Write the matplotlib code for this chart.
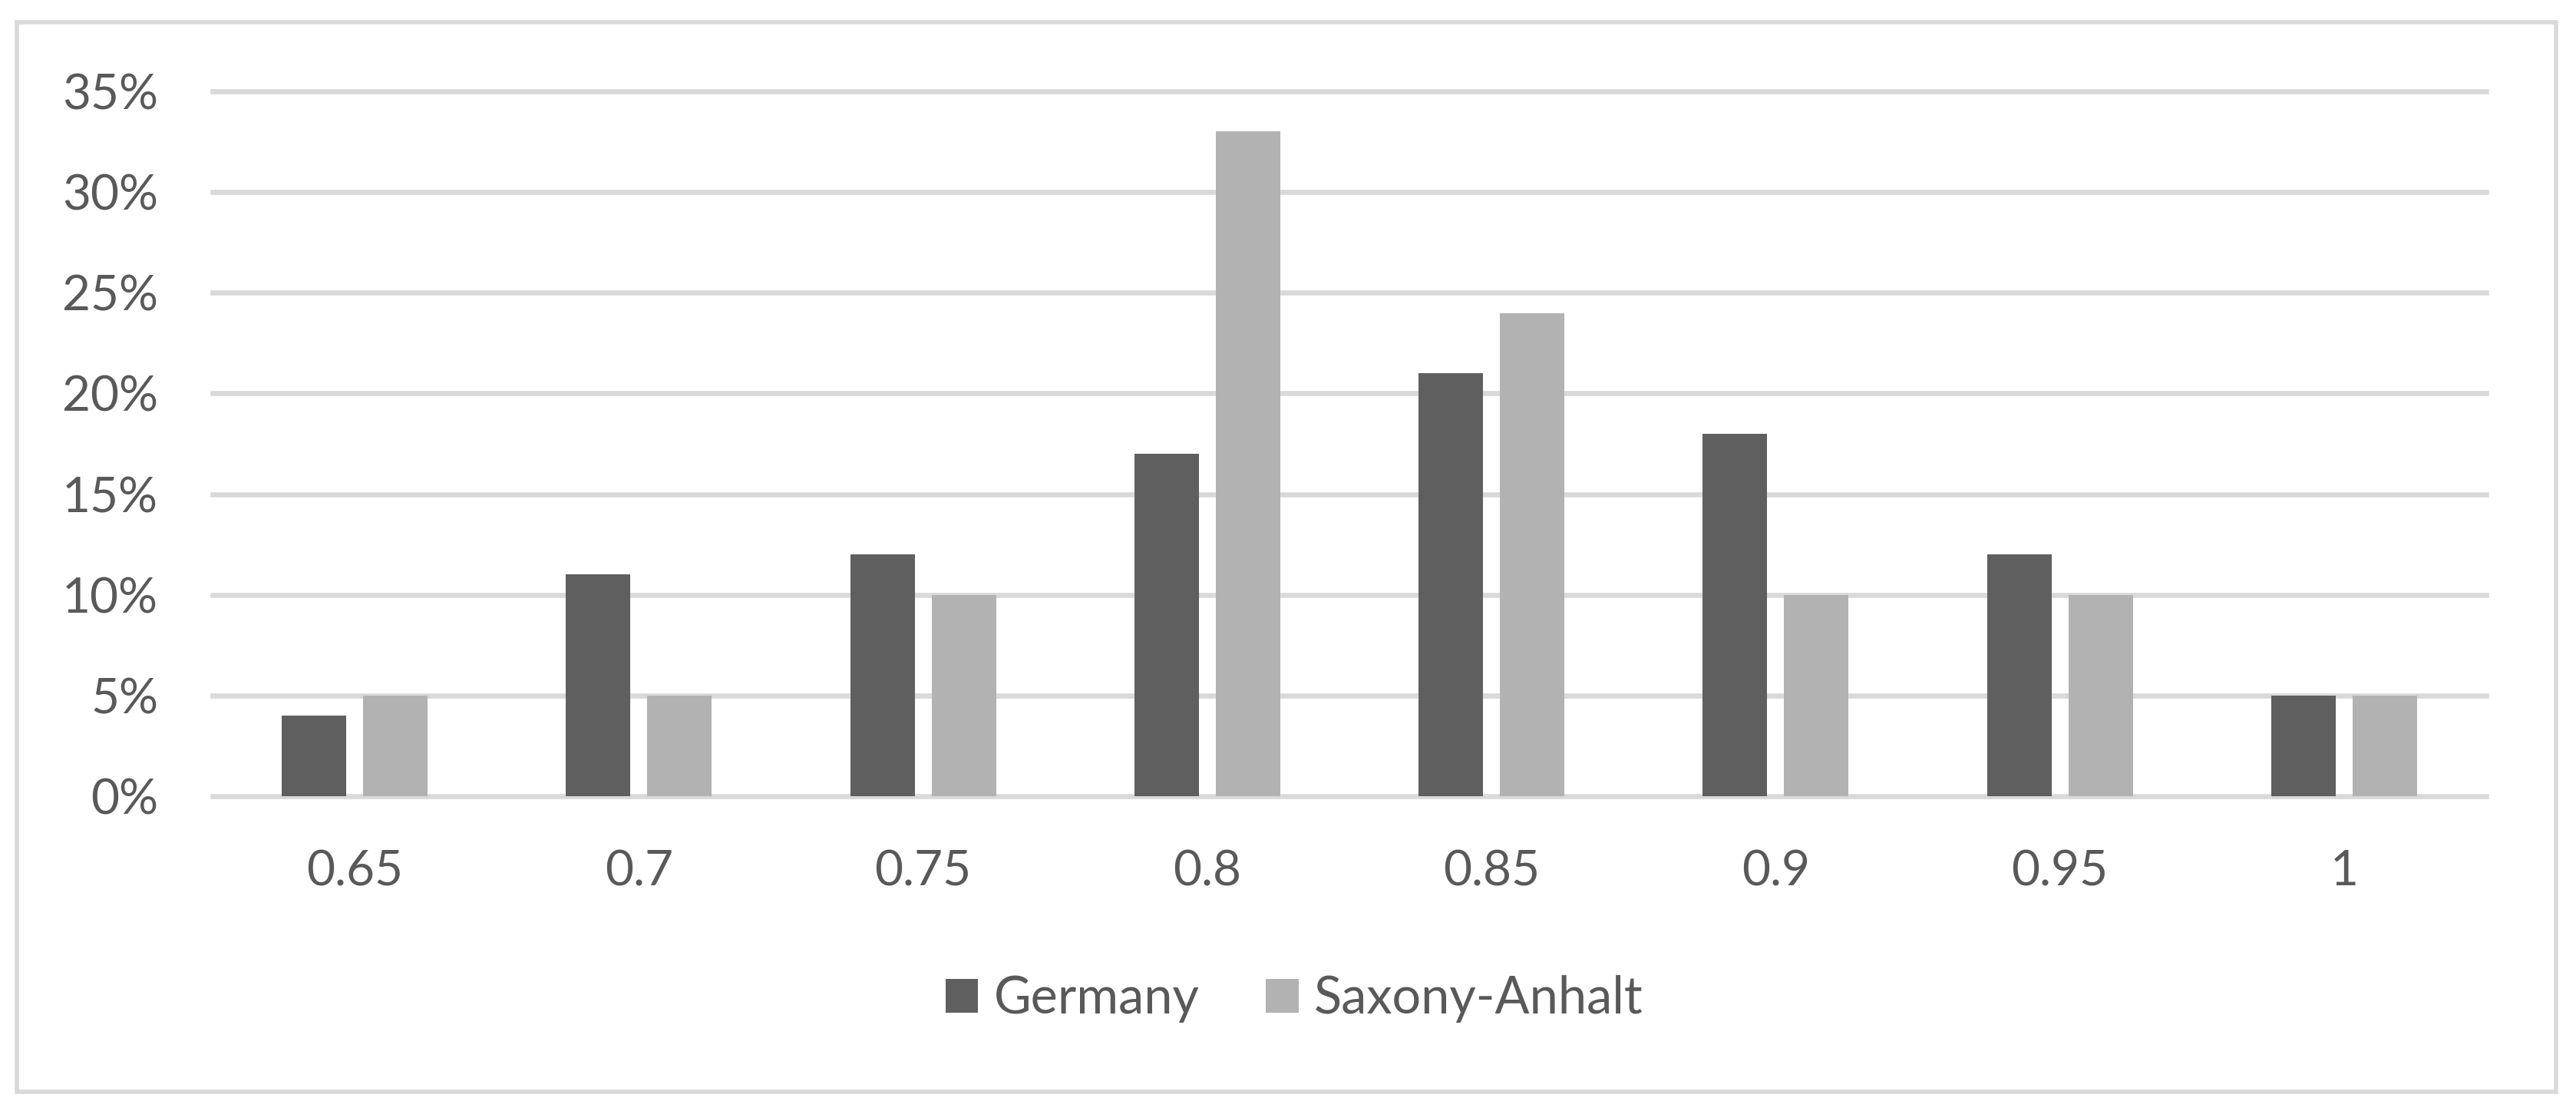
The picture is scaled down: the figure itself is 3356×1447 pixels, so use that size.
import matplotlib.pyplot as plt
from matplotlib.patches import Rectangle
from matplotlib.ticker import PercentFormatter
import numpy as np

plt.rcParams['font.family'] = ['Lato', 'DejaVu Sans']

categories = ['0.65', '0.7', '0.75', '0.8', '0.85', '0.9', '0.95', '1']
germany = [0.04, 0.11, 0.12, 0.17, 0.21, 0.18, 0.12, 0.05]
saxony_anhalt = [0.05, 0.05, 0.10, 0.33, 0.24, 0.10, 0.10, 0.05]

text_c = '#595959'
grid_c = '#D9D9D9'

fig = plt.figure(figsize=(33.56, 14.47), dpi=100)
ax = fig.add_axes([277 / 3356, 1 - 1037 / 1447, (3239 - 277) / 3356, (1037 - 119) / 1447])

x = np.arange(len(categories))
w = 0.227
ax.bar(x - 0.143, germany, w, color='#5F5F5F', label='Germany')
ax.bar(x + 0.143, saxony_anhalt, w, color='#B2B2B2', label='Saxony-Anhalt')

ax.set_xlim(-0.5, len(categories) - 0.5)
ax.set_ylim(0, 0.35)
ax.set_yticks(np.arange(0, 0.351, 0.05))
ax.yaxis.set_major_formatter(PercentFormatter(1, decimals=0))
ax.set_xticks(x)
ax.set_xticklabels(categories)

ax.set_axisbelow(True)
ax.grid(axis='y', color=grid_c, linewidth=4.8)
for line in ax.get_ygridlines():
    line.set_clip_on(False)
for s in ax.spines.values():
    s.set_visible(False)
ax.tick_params(length=0, labelsize=46, colors=text_c)
ax.tick_params(axis='y', pad=51)
ax.tick_params(axis='x', pad=50)

fig.legend(loc='center', bbox_to_anchor=(1686 / 3356, 1 - 1301 / 1447), ncol=2,
           frameon=False, fontsize=48, labelcolor=text_c,
           handlelength=0.64, handleheight=0.64, handletextpad=0.3, columnspacing=1.3)

fig.patches.append(Rectangle((22 / 3356, 1 - 1422 / 1447), (3330 - 22) / 3356, (1422 - 29) / 1447,
                             transform=fig.transFigure, fill=False, edgecolor=grid_c, linewidth=4))

fig.savefig('out.png', dpi=100, facecolor='white')
